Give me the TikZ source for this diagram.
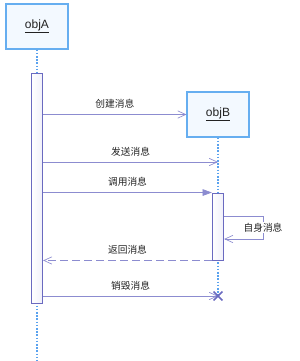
\documentclass[tikz,border=0pt]{standalone}
\usepackage{fontspec}
\setmainfont{Noto Sans CJK SC}
\newfontfamily\latinsf{Liberation Sans}
\usetikzlibrary{arrows.meta,shapes.misc,positioning}
\definecolor{boxedge}{HTML}{66AEF0}
\definecolor{boxfill}{HTML}{F3F9FF}
\definecolor{lifeblue}{HTML}{5AA2EE}
\definecolor{msgviolet}{HTML}{8C8CD0}
\definecolor{actedge}{HTML}{6A6AC0}
\definecolor{actfill}{HTML}{ECECFA}
\definecolor{labelgray}{HTML}{222222}

\begin{document}
\begin{tikzpicture}[x=0.75pt, y=-0.75pt,
    every node/.style={font=\fontsize{7.3}{8.5}\selectfont, text=labelgray},
    objbox/.style={draw=boxedge, fill=boxfill, line width=0.8pt, minimum width=46.5pt, minimum height=33.75pt, inner sep=0pt, font=\latinsf\fontsize{9}{10}\selectfont},
    actbar/.style={draw=actedge, left color=white, right color=actfill!85!actedge!40, line width=0.7pt, inner sep=0pt, minimum width=8.5pt},
    lifeline/.style={lifeblue, line width=0.9pt, dash pattern=on 1.2pt off 1.2pt},
    msg/.style={msgviolet, line width=0.55pt, -{Straight Barb[length=6pt, width=5.5pt, line width=0.5pt]}},
    callmsg/.style={msgviolet, line width=0.55pt, -{Triangle[length=7pt, width=5pt]}},
    retmsg/.style={msg, dash pattern=on 6pt off 3pt}]
  \useasboundingbox (0,0) rectangle (300,361);

  % --- Objects and lifelines ---
  \node[objbox] (objA) at (37,26.5) {\underline{objA}};
  \node[objbox] (objB) at (218,114.5) {\underline{objB}};
  \coordinate (endA) at (37,361);
  \coordinate (killB) at (218,296);
  \draw[lifeline] (objA.south) -- (endA);
  \draw[lifeline] (objB.south) -- (killB);

  % --- Activation bars ---
  \node[actbar, minimum height=172.5pt] (actA) at (37,188) {};
  \node[actbar, minimum height=50.25pt] (actB) at (218,226.5) {};

  % --- Messages ---
  \coordinate (sendB) at (218,162);
  \coordinate (selfOut) at (263,216);
  \coordinate (selfIn) at (263,239);
  \draw[msg] (actA.east |- objB.west) -- node[above=1pt] {创建消息} (objB.west);
  \draw[msg] (actA.east |- sendB) -- node[above=1pt] {发送消息} (sendB);
  \draw[callmsg] (actA.east |- actB.north west) -- node[above=1pt] {调用消息} (actB.north west);
  \draw[msg] (actB.east |- selfOut) -- (selfOut)
    -- node[fill=white, inner sep=1pt] {自身消息} (selfIn) -- (actB.east |- selfIn);
  \draw[retmsg] (actB.south west) -- node[above=1pt] {返回消息} (actA.east |- actB.south west);
  \draw[msg] (actA.east |- killB) -- node[above=1pt] {销毁消息} (killB);

  % --- Destruction mark ---
  \node[cross out, draw=actedge, line width=1.1pt, minimum size=5.5pt, inner sep=0pt] (xB) at (killB) {};
\end{tikzpicture}
\end{document}
